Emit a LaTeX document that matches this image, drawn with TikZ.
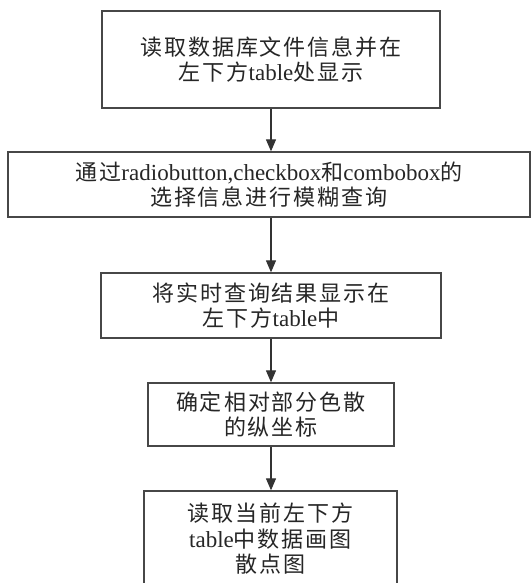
\documentclass[tikz,border=0pt]{standalone}
\usepackage{fontspec}
\setmainfont{Liberation Serif}
\newfontfamily\cjk{Noto Sans CJK SC}[Scale=0.957,LetterSpace=9]
\newcommand\zh[1]{{\cjk #1}}
\usetikzlibrary{arrows.meta}
\tikzset{
  stepbox/.style={draw=black!72, line width=1.3pt, fill=white, inner sep=0pt,
    align=center, text=black!85, font=\fontsize{23}{25.5}\selectfont},
  flow/.style={draw=black!80, line width=1.2pt, -{Triangle[length=12pt,width=10pt]}}
}
\begin{document}
\begin{tikzpicture}[x=1pt,y=-1pt]
\useasboundingbox (0,0) rectangle (531,583);
\node[stepbox, minimum width=338pt, minimum height=97pt] (b1) at (271,59.5)
  {\zh{读取数据库文件信息并在}\\\zh{左下方}table\zh{处显示}};
\node[stepbox, minimum width=522pt, minimum height=65pt] (b2) at (269,184.5)
  {\zh{通过}radiobutton,checkbox\zh{和}combobox\zh{的}\\\zh{选择信息进行模糊查询}};
\node[stepbox, minimum width=340pt, minimum height=65pt] (b3) at (271,305.5)
  {\zh{将实时查询结果显示在}\\\zh{左下方}table\zh{中}};
\node[stepbox, minimum width=246pt, minimum height=63pt] (b4) at (271,414.5)
  {\zh{确定相对部分色散}\\\zh{的纵坐标}};
\node[stepbox, minimum width=253pt, minimum height=96pt] (b5) at (270.5,539)
  {\zh{读取当前左下方}\\table\zh{中数据画图}\\\zh{散点图}};
\draw[flow] (b1.south -| 271,0) -- (b2.north -| 271,0);
\draw[flow] (b2.south -| 271,0) -- (b3.north -| 271,0);
\draw[flow] (b3.south -| 271,0) -- (b4.north -| 271,0);
\draw[flow] (b4.south -| 271,0) -- (b5.north -| 271,0);
\end{tikzpicture}
\end{document}
